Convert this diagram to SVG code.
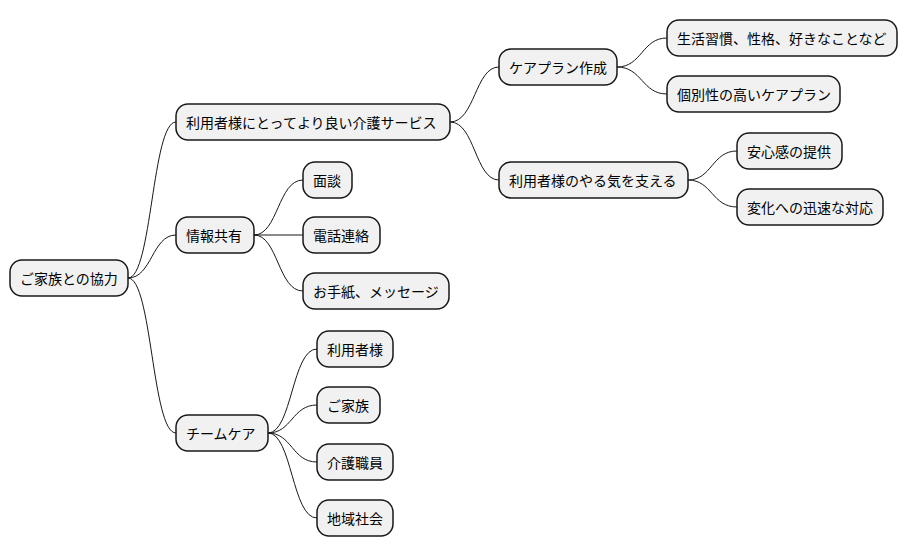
<svg xmlns="http://www.w3.org/2000/svg" width="908" height="555" viewBox="0 0 908 555">
<style>
.n rect{fill:#F1F1F1;stroke:#181818;stroke-width:1.5}
.n text{font-family:"Noto Sans CJK JP","Liberation Sans",sans-serif;font-size:14px;fill:#000;dominant-baseline:central}
#edges path{fill:none;stroke:#181818;stroke-width:1}
</style>
<rect width="908" height="555" fill="#fff"/>
<g id="edges">
<path d="M128,278 C152,278 152,122 176,122"/>
<path d="M128,278 C152,278 152,235 176,235"/>
<path d="M128,278 C152,278 152,433 176,433"/>
<path d="M450,122 C475,122 475,67 499,67"/>
<path d="M450,122 C475,122 475,180 499,180"/>
<path d="M617,67 C642,67 642,38 667,38"/>
<path d="M617,67 C642,67 642,94 667,94"/>
<path d="M688,180 C712,180 712,151 737,151"/>
<path d="M688,180 C712,180 712,207 737,207"/>
<path d="M254,235 C278,235 278,180 303,180"/>
<path d="M254,235 L303,235"/>
<path d="M254,235 C278,235 278,291 303,291"/>
<path d="M268,433 C292,433 292,349 317,349"/>
<path d="M268,433 C292,433 292,405 317,405"/>
<path d="M268,433 C292,433 292,462 317,462"/>
<path d="M268,433 C292,433 292,518 317,518"/>
</g>
<g id="root" class="n"><rect x="10" y="260" width="118" height="36" rx="12"/><text x="20" y="278">ご家族との協力</text></g>
<g id="service" class="n"><rect x="176" y="104" width="274" height="36" rx="12"/><text x="186" y="122">利用者様にとってより良い介護サービス</text></g>
<g id="share" class="n"><rect x="176" y="217" width="78" height="36" rx="12"/><text x="186" y="235">情報共有</text></g>
<g id="team" class="n"><rect x="176" y="415" width="92" height="36" rx="12"/><text x="186" y="433">チームケア</text></g>
<g id="careplan" class="n"><rect x="499" y="49" width="118" height="36" rx="12"/><text x="509" y="67">ケアプラン作成</text></g>
<g id="motivation" class="n"><rect x="499" y="162" width="189" height="36" rx="12"/><text x="509" y="180">利用者様のやる気を支える</text></g>
<g id="habits" class="n"><rect x="667" y="20" width="230" height="36" rx="12"/><text x="677" y="38">生活習慣、性格、好きなことなど</text></g>
<g id="individual" class="n"><rect x="667" y="76" width="173" height="36" rx="12"/><text x="677" y="94">個別性の高いケアプラン</text></g>
<g id="relief" class="n"><rect x="737" y="133" width="105" height="36" rx="12"/><text x="747" y="151">安心感の提供</text></g>
<g id="change" class="n"><rect x="737" y="189" width="146" height="36" rx="12"/><text x="747" y="207">変化への迅速な対応</text></g>
<g id="interview" class="n"><rect x="303" y="162" width="49" height="36" rx="12"/><text x="313" y="180">面談</text></g>
<g id="phone" class="n"><rect x="303" y="217" width="77" height="36" rx="12"/><text x="313" y="235">電話連絡</text></g>
<g id="letter" class="n"><rect x="303" y="273" width="146" height="36" rx="12"/><text x="313" y="291">お手紙、メッセージ</text></g>
<g id="user" class="n"><rect x="317" y="331" width="76" height="36" rx="12"/><text x="327" y="349">利用者様</text></g>
<g id="family" class="n"><rect x="317" y="387" width="63" height="36" rx="12"/><text x="327" y="405">ご家族</text></g>
<g id="staff" class="n"><rect x="317" y="444" width="76" height="36" rx="12"/><text x="327" y="462">介護職員</text></g>
<g id="community" class="n"><rect x="317" y="500" width="76" height="36" rx="12"/><text x="327" y="518">地域社会</text></g>
</svg>
